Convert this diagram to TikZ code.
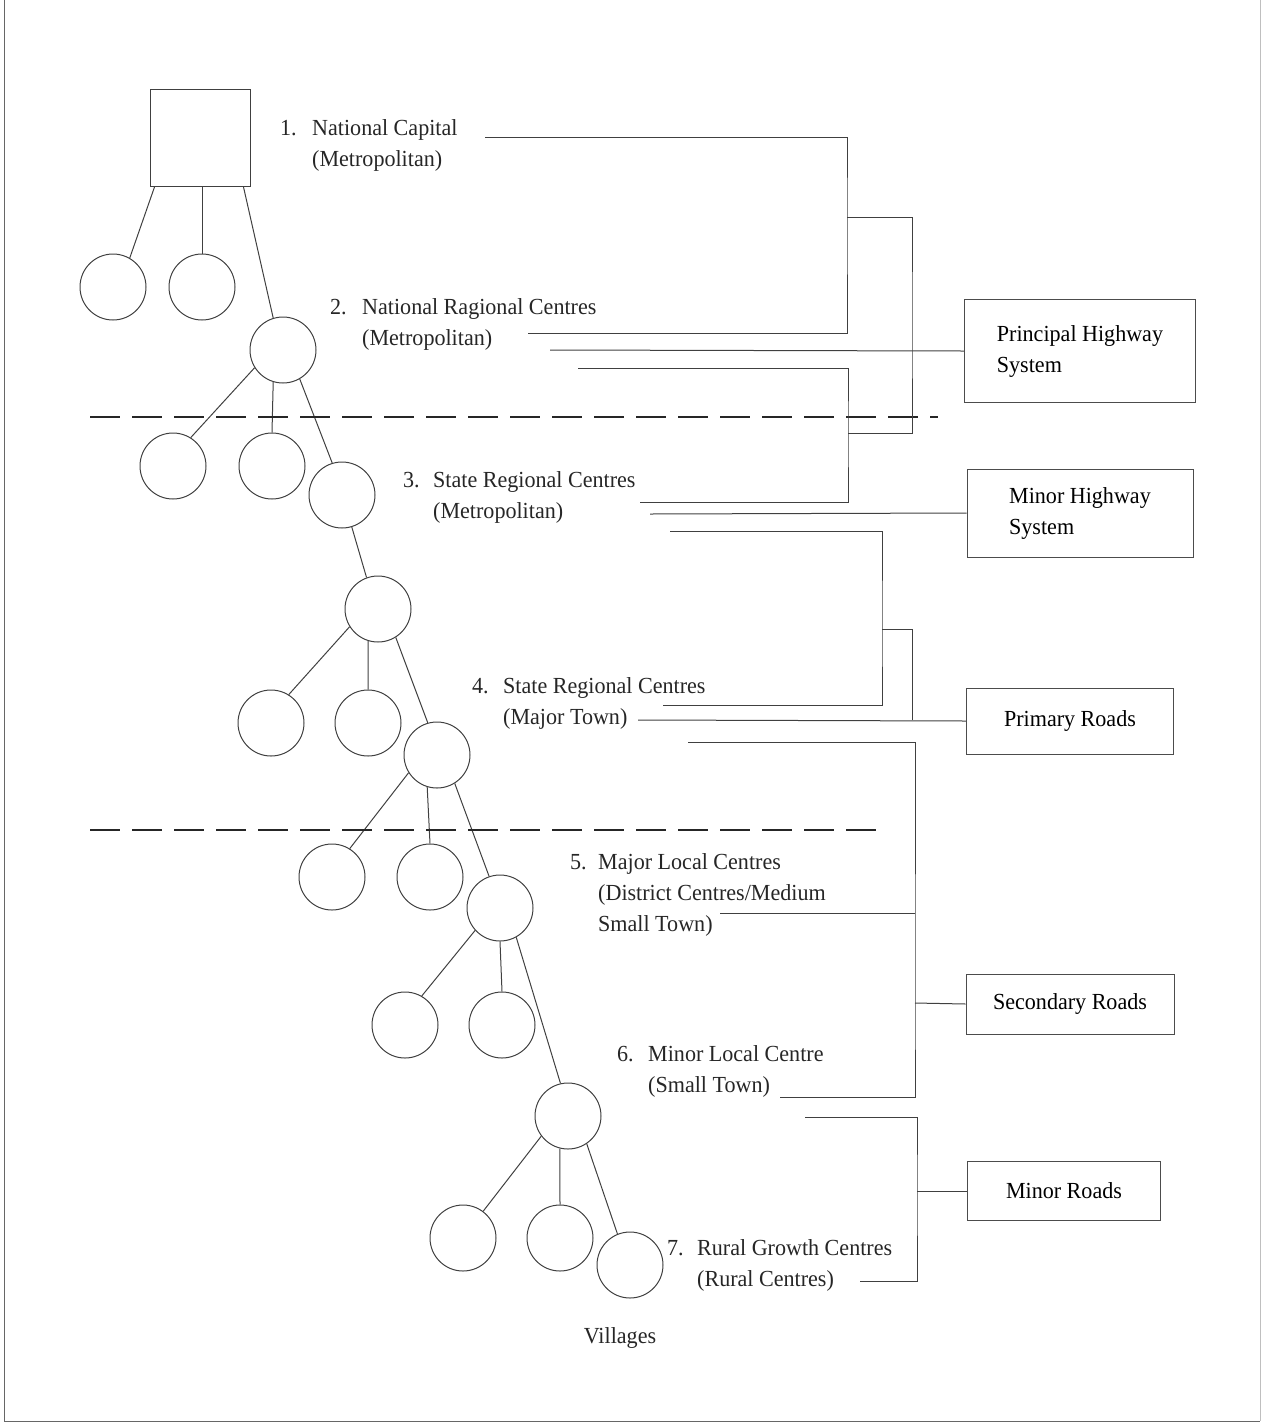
\documentclass[tikz,border=0pt]{standalone}
\usepackage{fontspec}
\setmainfont{Liberation Serif}[FakeStretch=0.96]

\newcommand{\lblstack}[1]{\begin{tabular}[t]{@{}l@{}}#1\end{tabular}}

\tikzset{
  town/.style={circle,draw=black!75,line width=1pt,minimum size=66pt,inner sep=0pt},
  capbox/.style={rectangle,draw=black!75,line width=1pt,minimum width=100pt,minimum height=97pt,inner sep=0pt},
  roadbox/.style={rectangle,draw=black!70,line width=1pt,align=left,inner sep=0pt},
  lbl/.style={anchor=base west,inner sep=0pt,text=black!85},
  link/.style={draw=black!75,line width=1pt},
  divider/.style={draw=black!85,line width=2.2pt,dash pattern=on 30pt off 12pt},
}

\begin{document}
\begin{tikzpicture}[x=1pt,y=-1pt,font=\fontsize{23}{31}\selectfont]
  \useasboundingbox (0,0) rectangle (1263,1428);

  % frame
  \draw[black!60,line width=1pt] (4,0) -- (4,1421) -- (1260,1421);
  \draw[black!25,line width=1pt] (1260,0) -- (1260,1421);

  % hierarchy of centres
  \node[capbox] (cap) at (200,138) {};

  \node[town] (v11) at (113,287) {};
  \node[town] (v12) at (202,287) {};
  \node[town] (n2) at (283,350) {};

  \node[town] (v21) at (173,466) {};
  \node[town] (v22) at (272,466) {};
  \node[town] (n3) at (342,495) {};

  \node[town] (n4) at (378,609) {};

  \node[town] (v41) at (271,723) {};
  \node[town] (v42) at (368,723) {};
  \node[town] (n5) at (437,755) {};

  \node[town] (v51) at (332,877) {};
  \node[town] (v52) at (430,877) {};
  \node[town] (n6) at (500,908) {};

  \node[town] (v61) at (405,1025) {};
  \node[town] (v62) at (502,1025) {};
  \node[town] (n7) at (568,1116) {};

  \node[town] (v71) at (463,1238) {};
  \node[town] (v72) at (560,1238) {};
  \node[town] (n8) at (630,1265) {};

  \draw[link] ([xshift=5pt]cap.south west) -- (v11.60);
  \draw[link] ([xshift=2pt]cap.south) -- (v12.north);
  \draw[link] ([xshift=-7pt]cap.south east) -- (n2.107);

  \draw[link] (n2.212) -- (v21.58);
  \draw[link] (n2.253) -- (v22.north);
  \draw[link] (n2.300) -- (n3.107);

  \draw[link] (n3.287) -- (n4.110);

  \draw[link] (n4.212) -- (v41.58);
  \draw[link] (n4.253) -- (v42.north);
  \draw[link] (n4.302) -- (n5.106);

  \draw[link] (n5.212) -- (v51.58);
  \draw[link] (n5.253) -- (v52.north);
  \draw[link] (n5.302) -- (n6.109);

  \draw[link] (n6.222) -- (v61.60);
  \draw[link] (n6.south) -- (v62.north);
  \draw[link] (n6.299) -- (n7.103);

  \draw[link] (n7.217) -- (v71.53);
  \draw[link] (n7.256) -- (v72.north);
  \draw[link] (n7.304) -- (n8.112);

  % dividing lines
  \draw[divider] (90,417) -- (938,417);
  \draw[divider] (90,830) -- (880,830);

  % labels
  \node[lbl] (num1) at (280,135) {1.};
  \node[lbl] (lab1) at (312,135) {\lblstack{National Capital\\(Metropolitan)}};
  \node[lbl] (num2) at (330,314) {2.};
  \node[lbl] (lab2) at (362,314) {\lblstack{National Ragional Centres\\(Metropolitan)}};
  \node[lbl] (num3) at (403,487) {3.};
  \node[lbl] (lab3) at (433,487) {\lblstack{State Regional Centres\\(Metropolitan)}};
  \node[lbl] (num4) at (472,693) {4.};
  \node[lbl] (lab4) at (503,693) {\lblstack{State Regional Centres\\(Major Town)}};
  \node[lbl] (num5) at (570,869) {5.};
  \node[lbl] (lab5) at (598,869) {\lblstack{Major Local Centres\\(District Centres/Medium\\Small Town)}};
  \node[lbl] (num6) at (617,1061) {6.};
  \node[lbl] (lab6) at (648,1061) {\lblstack{Minor Local Centre\\(Small Town)}};
  \node[lbl] (num7) at (667,1255) {7.};
  \node[lbl] (lab7) at (697,1255) {\lblstack{Rural Growth Centres\\(Rural Centres)}};
  \node[text=black!85] (vil) at (620,1338) {Villages};

  % road classes
  \node[roadbox,minimum width=231pt,minimum height=103pt] (phs) at (1080,351) {Principal Highway\\System};
  \node[roadbox,minimum width=226pt,minimum height=88pt] (mhs) at (1080,513) {Minor Highway\\System};
  \node[roadbox,minimum width=207pt,minimum height=66pt] (pr) at (1070,721) {Primary Roads};
  \node[roadbox,minimum width=208pt,minimum height=60pt] (sr) at (1070,1004) {Secondary Roads};
  \node[roadbox,minimum width=193pt,minimum height=59pt] (mr) at (1064,1191) {Minor Roads};

  % label ends and bracket spines
  \coordinate (e1) at (485,137);
  \coordinate (e2a) at (528,333);
  \coordinate (e2b) at (550,350);
  \coordinate (e2c) at (578,368);
  \coordinate (e3a) at (640,502);
  \coordinate (e3b) at (650,514);
  \coordinate (e3c) at (670,531);
  \coordinate (e4a) at (663,705);
  \coordinate (e4b) at (638,720);
  \coordinate (e4c) at (688,742);
  \coordinate (e5) at (720,913);
  \coordinate (e6a) at (780,1097);
  \coordinate (e6b) at (805,1117);
  \coordinate (e7) at (860,1281);

  \coordinate (s1) at (847,217);
  \coordinate (s2) at (848,433);
  \coordinate (s12) at (912,325);
  \coordinate (s3) at (882,629);
  \coordinate (s34) at (912,720);
  \coordinate (s4) at (915,1003);
  \coordinate (s5) at (917,1191);

  % brackets
  \draw[link] (e1) -| (s1) |- (e2a);
  \draw[link] (e2c) -| (s2) |- (e3a);
  \draw[link] (s1) -| (s12) |- (s2);
  \draw[link] (e2b) -- (phs.west);

  \draw[link] (e3b) -- (mhs.west);
  \draw[link] (e3c) -| (s3) |- (e4a);
  \draw[link] (s3) -| (s34);
  \draw[link] (e4b) -- (pr.west);

  \draw[link] (e4c) -| (s4) |- (e6a);
  \draw[link] (e5) -- (e5 -| s4);
  \draw[link] (s4) -- (sr.west);

  \draw[link] (e6b) -| (s5) |- (e7);
  \draw[link] (s5) -- (mr.west);
\end{tikzpicture}
\end{document}
